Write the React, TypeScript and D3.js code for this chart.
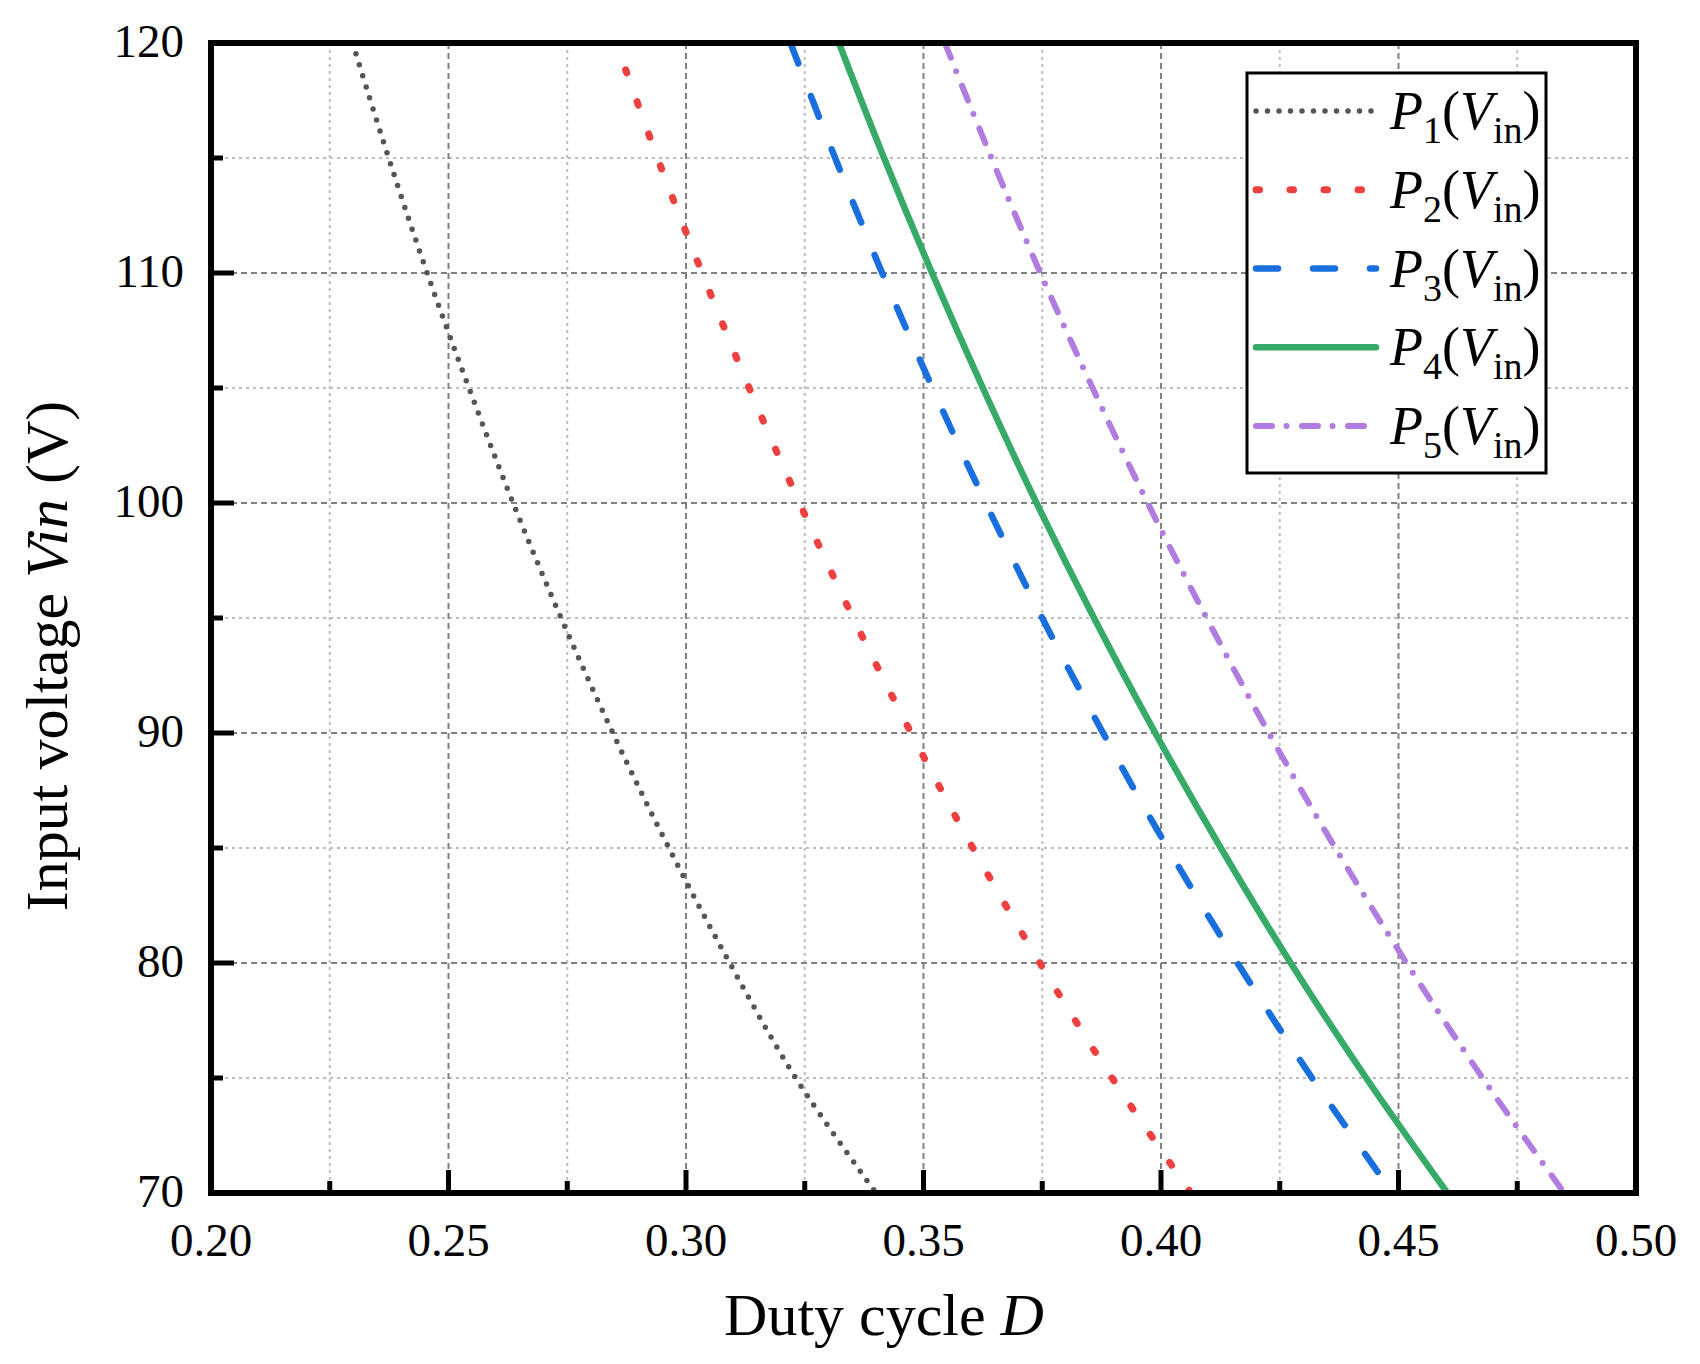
import * as d3 from "d3";

// Input voltage samples (V) and duty cycle read for each curve
const VIN = [70, 75, 80, 85, 90, 95, 100, 105, 110, 115, 120];
const P1 = [0.34, 0.3231, 0.3092, 0.2964, 0.2846, 0.2737, 0.2636, 0.2543, 0.2455, 0.2374, 0.2298];
const P2 = [0.4063, 0.3897, 0.3745, 0.3604, 0.3474, 0.3352, 0.3239, 0.3133, 0.3034, 0.294, 0.2853];
const P3 = [0.4488, 0.4318, 0.4161, 0.4014, 0.3878, 0.375, 0.3631, 0.3519, 0.3413, 0.3314, 0.322];
const P4 = [0.4603, 0.4432, 0.4273, 0.4126, 0.3988, 0.3859, 0.3738, 0.3625, 0.3518, 0.3417, 0.3322];
const P5 = [0.4849, 0.4677, 0.4517, 0.4367, 0.4227, 0.4096, 0.3972, 0.3856, 0.3746, 0.3643, 0.3545];

const SERIES_SUB = ["1", "2", "3", "4", "5"];
const SERIES_VALUES = [P1, P2, P3, P4, P5];

const X_TICKS = [0.2, 0.25, 0.3, 0.35, 0.4, 0.45, 0.5];
const X_MINOR = [0.225, 0.275, 0.325, 0.375, 0.425, 0.475];
const Y_TICKS = [70, 80, 90, 100, 110, 120];
const Y_MINOR = [75, 85, 95, 105, 115];

const W = 1700;
const H = 1364;
const PLOT = { left: 211, right: 1636, top: 43, bottom: 1193 };
const FONT = "'Liberation Serif', 'Times New Roman', serif";

// fromTop: which end the dash pattern starts at
const STYLES = [
	{ color: "#555555", width: 5.5, dash: "0,11.5", fromTop: true },
	{ color: "#ef4040", width: 7, dash: "3.5,30.5", fromTop: false },
	{ color: "#1a6fdf", width: 6.5, dash: "22,35", fromTop: true },
	{ color: "#37aa6a", width: 6.5, dash: "", fromTop: true },
	{ color: "#b07ce0", width: 6, dash: "16,14.5,0,15.5", fromTop: true },
];

export default function App() {
	const x = d3.scaleLinear().domain([0.2, 0.5]).range([PLOT.left, PLOT.right]);
	const y = d3.scaleLinear().domain([70, 120]).range([PLOT.bottom, PLOT.top]);

	const line = d3
		.line<[number, number]>()
		.x((d) => x(d[0]))
		.y((d) => y(d[1]))
		.curve(d3.curveCatmullRom.alpha(0.5));

	const legendX0 = 1256;
	const legendX1 = 1376;
	const legendRow = (i: number) => 111 + i * 78.75;

	return (
		<svg
			width={W}
			height={H}
			style={{ position: "absolute", left: 0, top: 0, background: "#fff" }}
			fontFamily={FONT}
		>
			<defs>
				<clipPath id="plot-clip">
					<rect x={PLOT.left} y={PLOT.top} width={PLOT.right - PLOT.left} height={PLOT.bottom - PLOT.top} />
				</clipPath>
			</defs>

			{/* minor grid */}
			{X_MINOR.map((v) => (
				<line key={"xm" + v} x1={x(v)} x2={x(v)} y1={PLOT.top} y2={PLOT.bottom} stroke="#bcbcbc" strokeWidth={2} strokeDasharray="3,4" />
			))}
			{Y_MINOR.map((v) => (
				<line key={"ym" + v} x1={PLOT.left} x2={PLOT.right} y1={y(v)} y2={y(v)} stroke="#bcbcbc" strokeWidth={2} strokeDasharray="3,4" />
			))}
			{/* major grid */}
			{X_TICKS.slice(1, -1).map((v) => (
				<line key={"xg" + v} x1={x(v)} x2={x(v)} y1={PLOT.top} y2={PLOT.bottom} stroke="#808080" strokeWidth={2} strokeDasharray="6,4" />
			))}
			{Y_TICKS.slice(1, -1).map((v) => (
				<line key={"yg" + v} x1={PLOT.left} x2={PLOT.right} y1={y(v)} y2={y(v)} stroke="#808080" strokeWidth={2} strokeDasharray="6,4" />
			))}

			{/* curves */}
			<g clipPath="url(#plot-clip)">
				{SERIES_VALUES.map((vals, i) => {
					const pts = vals.map((d, j) => [d, VIN[j]] as [number, number]);
					if (STYLES[i].fromTop) pts.reverse();
					return (
						<path
							key={i}
							d={line(pts) ?? ""}
							fill="none"
							stroke={STYLES[i].color}
							strokeWidth={STYLES[i].width}
							strokeDasharray={STYLES[i].dash || undefined}
							strokeLinecap="round"
						/>
					);
				})}
			</g>

			{/* ticks */}
			{X_TICKS.map((v) => (
				<line key={"xt" + v} x1={x(v)} x2={x(v)} y1={PLOT.bottom} y2={PLOT.bottom - 23} stroke="#000" strokeWidth={5} />
			))}
			{X_MINOR.map((v) => (
				<line key={"xtm" + v} x1={x(v)} x2={x(v)} y1={PLOT.bottom} y2={PLOT.bottom - 12} stroke="#000" strokeWidth={5} />
			))}
			{Y_TICKS.map((v) => (
				<line key={"yt" + v} x1={PLOT.left} x2={PLOT.left + 23} y1={y(v)} y2={y(v)} stroke="#000" strokeWidth={5} />
			))}
			{Y_MINOR.map((v) => (
				<line key={"ytm" + v} x1={PLOT.left} x2={PLOT.left + 12} y1={y(v)} y2={y(v)} stroke="#000" strokeWidth={5} />
			))}

			{/* frame */}
			<rect
				x={PLOT.left}
				y={PLOT.top}
				width={PLOT.right - PLOT.left}
				height={PLOT.bottom - PLOT.top}
				fill="none"
				stroke="#000"
				strokeWidth={6}
			/>

			{/* tick labels */}
			{X_TICKS.map((v) => (
				<text key={"xl" + v} x={x(v)} y={1256} fontSize={47} textAnchor="middle">
					{d3.format(".2f")(v)}
				</text>
			))}
			{Y_TICKS.map((v) => (
				<text key={"yl" + v} x={184} y={y(v) + 14} fontSize={47} textAnchor="end">
					{v}
				</text>
			))}

			{/* axis titles */}
			<text x={884} y={1335} fontSize={60} textAnchor="middle">
				Duty cycle <tspan fontStyle="italic">D</tspan>
			</text>
			<text transform="translate(67,656) rotate(-90)" fontSize={60} textAnchor="middle">
				Input voltage <tspan fontStyle="italic">Vin</tspan> (V)
			</text>

			{/* legend */}
			<rect x={1247} y={73} width={299} height={400} fill="#fff" stroke="#000" strokeWidth={3} />
			{STYLES.map((s, i) => (
				<g key={"lg" + i}>
					<line
						x1={legendX0}
						x2={legendX1}
						y1={legendRow(i)}
						y2={legendRow(i)}
						stroke={s.color}
						strokeWidth={s.width}
						strokeDasharray={s.dash || undefined}
						strokeLinecap="round"
					/>
					<text x={1390} y={legendRow(i) + 18} fontSize={54}>
						<tspan fontStyle="italic">P</tspan>
						<tspan fontSize={38} dy={14}>{SERIES_SUB[i]}</tspan>
						<tspan dy={-14}>(</tspan>
						<tspan fontStyle="italic">V</tspan>
						<tspan fontSize={38} dy={14}>in</tspan>
						<tspan dy={-14}>)</tspan>
					</text>
				</g>
			))}
		</svg>
	);
}
